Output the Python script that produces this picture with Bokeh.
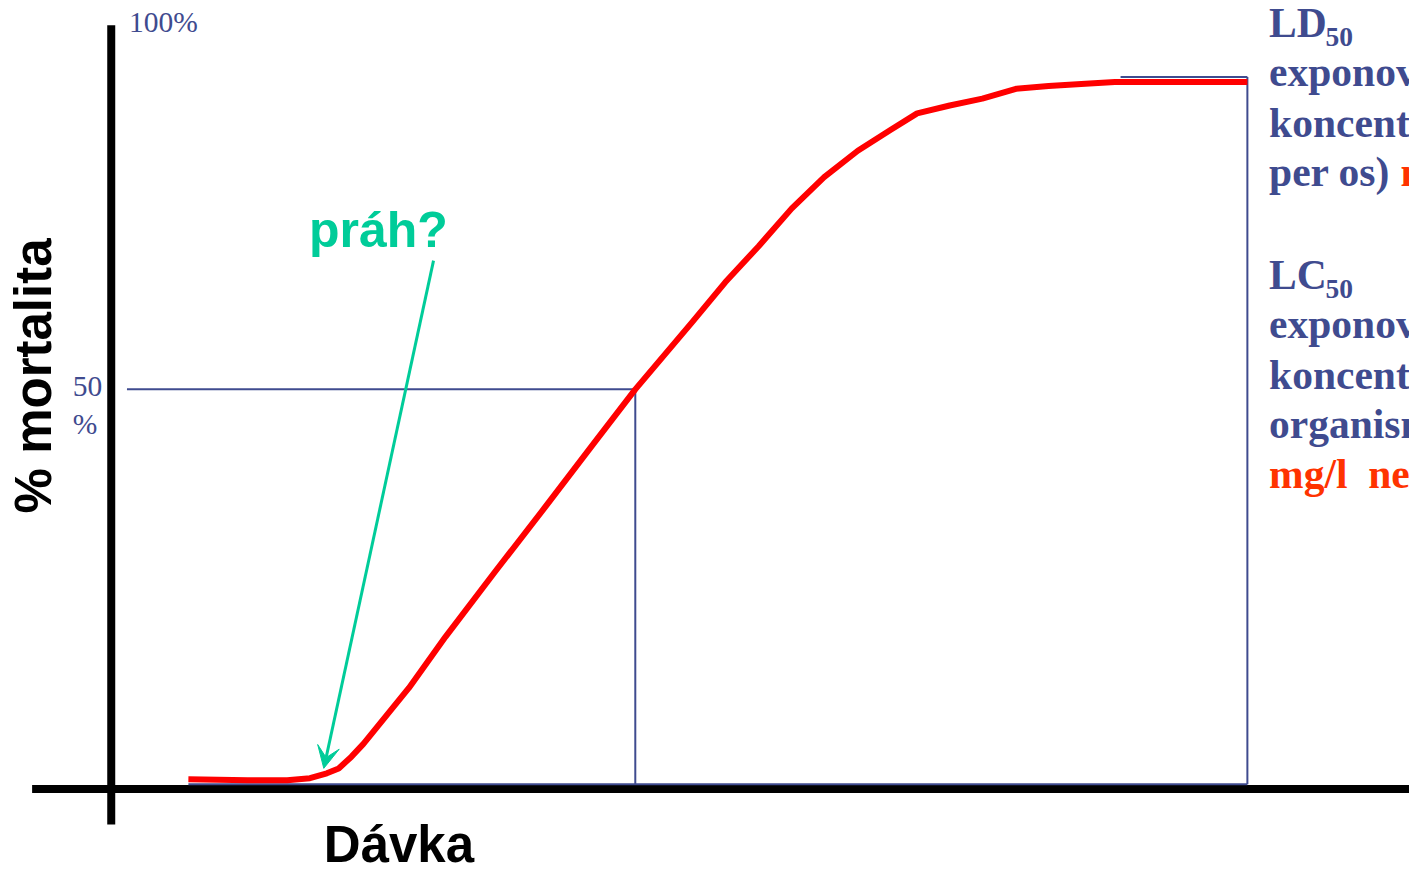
from bokeh.plotting import figure
from bokeh.models import Range1d, Arrow, VeeHead
from bokeh.core.properties import value
from bokeh.embed import file_html
from bokeh.resources import INLINE

# ---- data (dose in arbitrary units, LD50 = 50; mortality in %) ----
dose = [7.36, 13.02, 16.79, 18.96, 20.57, 21.70, 22.92, 24.06, 28.40, 31.89,
        36.60, 41.32, 46.04, 50.0, 55.47, 58.58, 61.79, 64.91, 68.02, 71.23,
        74.34, 76.89, 80.0, 83.11, 86.32, 89.43, 92.55, 95.75, 101.98, 108.4]
mortality = [0.62, 0.5, 0.5, 0.75, 1.37, 1.99, 3.48, 5.10, 12.19, 18.66,
             26.87, 34.95, 43.16, 50.0, 58.58, 63.56, 68.16, 72.89, 76.87, 80.22,
             82.84, 84.95, 85.95, 86.82, 88.06, 88.43, 88.68, 88.93, 88.93, 88.93]
ld50_dose = 50.0
ld50_level = 50.0
max_dose = 108.4
plateau = 89.55
threshold_dose = 20.28
tick_top_label = "100%"
tick_mid_label = ["50", "%"]
x_label = "Dávka"
y_label = "% mortalita"
threshold_label = "práh?"
ld_lines = ["exponov", "koncent", "per os)"]
lc_lines = ["exponov", "koncent", "organism"]

BLUE = "#3f4b8f"
RED = "#ff0000"
ORANGE = "#ff3300"
GREEN = "#00cc99"
SERIF = value("Liberation Serif")
SANS = value("Liberation Sans")
SHIFT = 0.35  # alphabetic-baseline correction, fraction of font size


def txt(x, y, text, size, color, font, bold=False, **kw):
    p.text(x=x, y=y, text=text, text_font=font,
           text_font_style="bold" if bold else "normal",
           text_font_size=f"{size}px", text_color=color,
           text_baseline="alphabetic", y_offset=-round(SHIFT * size), **kw)


p = figure(width=1409, height=872, output_backend="svg", toolbar_location=None,
           x_range=Range1d(-10.566, 123.868), y_range=Range1d(-11.19, 99.25),
           x_axis_location=None, y_axis_location=None, min_border=0,
           background_fill_color="white", border_fill_color="white")
p.outline_line_color = None
p.grid.visible = False

# black axes
p.line([0, 0], [96.1, -5.1], line_color="black", line_width=8, line_cap="butt")
p.line([-7.55, 130], [-0.62, -0.62], line_color="black", line_width=8, line_cap="butt")

# blue guide lines
p.line([1.5, ld50_dose], [ld50_level, ld50_level], line_color=BLUE, line_width=2)
p.line([ld50_dose, ld50_dose], [ld50_level, 0], line_color=BLUE, line_width=2)
p.line([dose[0], max_dose], [0, 0], line_color=BLUE, line_width=2)
p.line([max_dose, max_dose], [0, plateau], line_color=BLUE, line_width=2)
p.line([96.3, max_dose], [plateau, plateau], line_color=BLUE, line_width=2)

# dose-response curve
p.line(dose, mortality, line_color=RED, line_width=6, line_join="round", line_cap="butt")

# tick labels
txt([1.7], [95.27], [tick_top_label], 29.5, BLUE, SERIF)
txt([-3.68, -3.68], [49.13, 44.4], tick_mid_label, 29.5, BLUE, SERIF)

# axis titles
p.text(x=[-7.45], y=[51.7], text=[y_label], angle=1.5708, text_font=SANS,
       text_font_style="bold", text_font_size="51px", text_color="black",
       text_align="center", text_baseline="alphabetic")
txt([20.28], [-9.95], [x_label], 51, "black", SANS, bold=True)

# threshold annotation
txt([18.87], [67.91], [threshold_label], 50, GREEN, SANS, bold=True)
p.add_layout(Arrow(end=VeeHead(size=22, fill_color=GREEN, line_color=GREEN),
                   x_start=30.75, y_start=66.3, x_end=threshold_dose, y_end=2.0,
                   line_color=GREEN, line_width=3))

# right-hand text block
RX = 110.47
txt([RX], [94.53], ["LD"], 41.5, BLUE, SERIF, bold=True)
txt([115.85], [93.41], ["50"], 27.5, BLUE, SERIF, bold=True)
txt([RX] * 3, [88.31, 81.84, 75.62], ld_lines, 41.5, BLUE, SERIF, bold=True)
txt([123.0], [75.62], ["m"], 41.5, ORANGE, SERIF, bold=True)
txt([RX], [62.56], ["LC"], 41.5, BLUE, SERIF, bold=True)
txt([115.85], [61.44], ["50"], 27.5, BLUE, SERIF, bold=True)
txt([RX] * 3, [56.34, 49.88, 43.66], lc_lines, 41.5, BLUE, SERIF, bold=True)
txt([RX], [37.44], ["mg/l\u00a0 ne"], 41.5, ORANGE, SERIF, bold=True)

open("out.html", "w").write(file_html(p, INLINE))
